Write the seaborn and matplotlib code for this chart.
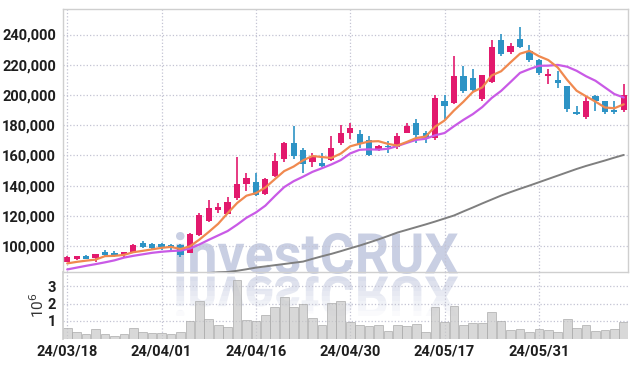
import numpy as np
import pandas as pd
import seaborn as sns
import matplotlib.pyplot as plt
from matplotlib.textpath import TextPath
from matplotlib.patches import PathPatch
from matplotlib.font_manager import FontProperties
from matplotlib.transforms import Affine2D, Bbox
from matplotlib.ticker import FuncFormatter

# trading days
dates = ['24/03/18', '24/03/19', '24/03/20', '24/03/21', '24/03/22', '24/03/25', '24/03/26', '24/03/27', '24/03/28', '24/03/29',
         '24/04/01', '24/04/02', '24/04/03', '24/04/04', '24/04/05', '24/04/08', '24/04/09', '24/04/11', '24/04/12', '24/04/15',
         '24/04/16', '24/04/17', '24/04/18', '24/04/19', '24/04/22', '24/04/23', '24/04/24', '24/04/25', '24/04/26', '24/04/29',
         '24/04/30', '24/05/02', '24/05/03', '24/05/07', '24/05/08', '24/05/09', '24/05/10', '24/05/13', '24/05/14', '24/05/16',
         '24/05/17', '24/05/20', '24/05/21', '24/05/22', '24/05/23', '24/05/24', '24/05/27', '24/05/28', '24/05/29', '24/05/30',
         '24/05/31', '24/06/03', '24/06/04', '24/06/05', '24/06/07', '24/06/10', '24/06/11', '24/06/12', '24/06/13', '24/06/14']

# prices in thousands of won
open_k = [89.6, 91.4, 93.4, 92.2, 96.2, 95.6, 94.0, 95.6, 101.8, 101.1,
          101.1, 100.7, 100.7, 95.6, 107.3, 116.6, 123.9, 121.4, 131.6, 140.9,
          142.6, 134.3, 146.6, 157.7, 168.5, 163.6, 155.9, 155.2, 157.0, 168.1,
          175.1, 174.3, 170.3, 163.6, 166.0, 165.4, 175.1, 181.4, 175.1, 171.4,
          195.7, 195.0, 212.7, 211.2, 197.5, 208.8, 236.4, 228.3, 237.0, 229.0,
          223.3, 212.7, 210.1, 206.1, 188.4, 185.3, 199.5, 195.7, 190.2, 190.2]
high_k = [93.2, 93.6, 93.8, 94.9, 97.3, 96.7, 96.2, 101.1, 103.3, 102.2,
          101.8, 101.1, 101.1, 108.4, 121.7, 130.5, 128.7, 132.3, 158.8, 148.2,
          148.2, 145.0, 161.9, 168.8, 179.6, 165.2, 161.4, 161.9, 172.9, 180.2,
          181.4, 176.9, 172.5, 166.7, 169.2, 175.0, 181.4, 184.2, 176.0, 200.1,
          200.1, 225.9, 219.3, 217.3, 213.4, 236.4, 240.3, 234.2, 244.7, 233.0,
          223.8, 217.1, 216.0, 206.1, 193.0, 199.0, 200.1, 196.1, 195.7, 207.4]
low_k = [89.3, 90.8, 91.2, 89.2, 93.6, 92.6, 92.9, 95.3, 98.5, 97.6,
         97.1, 97.6, 92.9, 95.3, 106.9, 115.7, 121.7, 121.0, 130.5, 136.5,
         133.2, 133.5, 145.5, 155.5, 157.5, 148.2, 152.6, 152.5, 156.3, 167.2,
         170.7, 165.0, 159.7, 163.2, 161.5, 164.5, 174.5, 168.5, 168.5, 170.5,
         183.5, 194.0, 201.2, 202.5, 196.1, 208.2, 226.0, 226.9, 231.0, 221.5,
         213.5, 207.1, 204.6, 189.0, 186.4, 184.0, 189.5, 187.5, 187.7, 189.0]
close_k = [92.9, 93.4, 91.4, 94.7, 94.0, 94.0, 96.2, 100.7, 99.1, 98.9,
           99.1, 99.1, 94.0, 108.0, 120.6, 125.0, 125.9, 129.2, 141.1, 145.1,
           133.8, 144.4, 156.4, 168.5, 159.9, 154.2, 158.8, 153.2, 165.2, 174.7,
           178.0, 167.6, 160.3, 166.3, 165.6, 172.5, 179.6, 173.6, 171.4, 198.0,
           192.8, 212.7, 202.8, 203.5, 213.4, 232.0, 226.9, 232.3, 231.9, 223.0,
           214.5, 213.8, 207.9, 190.8, 187.1, 196.1, 196.1, 188.4, 188.4, 200.1]

# volume in millions of shares
volume_m = [0.60, 0.40, 0.27, 0.55, 0.27, 0.15, 0.27, 0.60, 0.40, 0.32,
            0.32, 0.27, 0.40, 1.00, 2.13, 1.11, 0.77, 0.68, 3.37, 1.06,
            1.00, 1.34, 1.79, 2.37, 1.79, 1.98, 1.17, 0.79, 2.05, 2.15,
            0.96, 0.79, 0.73, 0.79, 0.45, 0.79, 0.73, 0.85, 0.40, 1.81,
            0.96, 1.86, 0.79, 0.90, 0.90, 1.49, 1.02, 0.49, 0.55, 0.40,
            0.55, 0.49, 0.40, 1.11, 0.62, 0.77, 0.45, 0.51, 0.55, 0.96]

# moving averages (thousands)
ma5_k = [88.5, 89.5, 90.3, 91.0, 93.3, 93.5, 94.1, 95.9, 96.8, 97.8,
         98.8, 99.4, 98.0, 99.8, 104.2, 109.3, 114.7, 121.7, 128.4, 133.3,
         135.0, 138.7, 144.2, 149.6, 152.6, 156.7, 159.6, 158.9, 158.3, 161.2,
         166.0, 167.7, 169.2, 169.4, 167.6, 166.5, 168.9, 171.5, 172.5, 179.0,
         183.1, 189.7, 195.5, 202.0, 205.0, 212.9, 215.7, 221.6, 227.3, 229.2,
         225.7, 223.1, 218.2, 210.0, 202.8, 199.1, 195.6, 191.7, 191.2, 193.8]
ma10_k = [84.5, 85.7, 86.9, 88.0, 89.2, 90.5, 92.3, 93.5, 94.5, 95.5,
          96.2, 96.7, 97.0, 98.3, 101.0, 104.1, 107.0, 109.9, 114.1, 118.7,
          122.2, 126.7, 133.0, 139.0, 142.9, 145.9, 149.1, 151.5, 154.0, 156.9,
          161.3, 163.7, 164.0, 163.8, 164.4, 166.2, 168.3, 170.3, 171.0, 173.3,
          174.8, 179.3, 183.5, 187.3, 192.0, 198.0, 202.7, 208.6, 214.6, 217.1,
          219.3, 219.4, 219.9, 218.7, 216.0, 212.4, 209.4, 205.0, 200.6, 198.3]
ma60_k = [None] * 15 + [
          82.1, 82.6, 82.8, 83.6, 84.6, 85.7, 86.5, 87.3, 88.1, 88.9,
          89.7, 91.5, 93.2, 94.8, 96.6, 98.5, 100.3, 102.3, 104.4, 106.6,
          108.9, 110.7, 112.5, 114.3, 116.2, 118.2, 120.2, 122.9, 125.5, 128.2,
          130.8, 133.4, 135.7, 137.9, 140.0, 142.2, 144.4, 146.6, 148.8, 151.0,
          153.0, 154.8, 156.6, 158.5, 160.3]

df = pd.DataFrame({'date': dates, 'open': open_k, 'high': high_k, 'low': low_k,
                   'close': close_k, 'vol': volume_m, 'ma5': ma5_k, 'ma10': ma10_k,
                   'ma60': pd.array(ma60_k, dtype='Float64').astype(float)})
for col in ['open', 'high', 'low', 'close', 'ma5', 'ma10', 'ma60']:
    df[col] = df[col] * 1000
df['i'] = np.arange(len(df))

UP, DOWN = '#e2196d', '#2d93c5'
colors = np.where(df['close'] >= df['open'], UP, DOWN)
label_font = ['Roboto', 'DejaVu Sans']

sns.set_theme(style='white')
plt.rcParams['font.family'] = label_font

W, H = 637, 366
fig = plt.figure(figsize=(W / 100, H / 100), dpi=100)
fig.patch.set_facecolor('white')
ax = fig.add_axes([63 / W, 1 - 272 / H, 565 / W, 263 / H])
axv = fig.add_axes([63 / W, 1 - 338.5 / H, 565 / W, 66.5 / H], sharex=ax)
for a in (ax, axv):
    a.set_facecolor('none')

# watermark + faded reflection
fp = FontProperties(family=label_font, weight='bold')
tp = TextPath((0, 0), 'investCRUX', size=100, prop=fp)
bb = tp.get_extents()
sx = (458 - 176) / bb.width
sy = (274 - 232) / bb.height
wm_color = '#c9cfe3'
tr = Affine2D().translate(-bb.x0, -bb.y0).scale(sx, sy).translate(176, H - 274).scale(0.01) + fig.dpi_scale_trans
fig.add_artist(PathPatch(tp, transform=tr, facecolor=wm_color, edgecolor='none', zorder=-1))
tr_r = Affine2D().translate(-bb.x0, -bb.y0).scale(sx, -sy).translate(176, H - 276).scale(0.01) + fig.dpi_scale_trans
for k in range(8):
    p = PathPatch(tp, transform=tr_r, facecolor=wm_color, edgecolor='none', zorder=-1,
                  alpha=0.7 * (1 - k / 8))
    p.set_clip_box(Bbox.from_extents(0, H - (276 + 5 * (k + 1)), W, H - (276 + 5 * k)))
    fig.add_artist(p)

# candles
ax.vlines(df['i'], df['low'], df['high'], colors=colors, lw=1.2, zorder=2)
body = np.maximum((df['close'] - df['open']).abs(), 700)
ax.bar(df['i'], body, bottom=np.minimum(df['open'], df['close']), width=0.66,
       color=colors, linewidth=0, zorder=2)

# moving averages
sns.lineplot(data=df, x='i', y='ma60', ax=ax, color='#7f7f7f', lw=1.4, zorder=3)
sns.lineplot(data=df, x='i', y='ma10', ax=ax, color='#c95ae6', lw=1.6, zorder=3)
sns.lineplot(data=df, x='i', y='ma5', ax=ax, color='#f0894f', lw=1.6, zorder=3)

# volume
sns.barplot(data=df, x='i', y='vol', ax=axv, color='#c8c8c8', saturation=1, width=0.92,
            edgecolor='#aaaaaa', linewidth=0.7, alpha=0.7, errorbar=None)

ax.set_xlim(-0.45, 59.45)
ax.set_ylim(82800, 256900)
axv.set_ylim(0, 3.8)

ax.set_yticks(range(100000, 240001, 20000))
ax.yaxis.set_major_formatter(FuncFormatter(lambda v, p: f'{v:,.0f}'))
axv.set_yticks([1, 2, 3])
axv.set_yticklabels(['1', '2', '3'])
ticks = list(range(0, 60, 10))
axv.set_xticks(ticks)
axv.set_xticklabels([dates[t] for t in ticks])
ax.tick_params(axis='x', labelbottom=False, length=0)
ax.tick_params(axis='y', length=0, pad=5, labelsize=10.5, labelcolor='#1e1e1e')
axv.tick_params(axis='y', length=0, pad=5, labelsize=10.5, labelcolor='#1e1e1e')
axv.tick_params(axis='x', length=0, pad=4, labelsize=10.5, labelcolor='#1e1e1e')
for lbl in ax.get_yticklabels() + axv.get_yticklabels() + axv.get_xticklabels():
    lbl.set_fontweight('bold')

ax.set_xlabel('')
ax.set_ylabel('')
axv.set_xlabel('')
axv.set_ylabel('10$^6$', fontsize=11, color='#333333')
axv.yaxis.set_label_coords(-0.028, 0.5)

for a in (ax, axv):
    a.grid(True, linestyle=':', color='#c3c3d3', linewidth=0.9)
    a.set_axisbelow(True)
for s in ax.spines.values():
    s.set_color('#cfcfcf')
    s.set_linewidth(1)
axv.spines['left'].set_color('#cfcfcf')
for s in ['top', 'right', 'bottom']:
    axv.spines[s].set_visible(False)

fig.savefig('out.png', dpi=100)
